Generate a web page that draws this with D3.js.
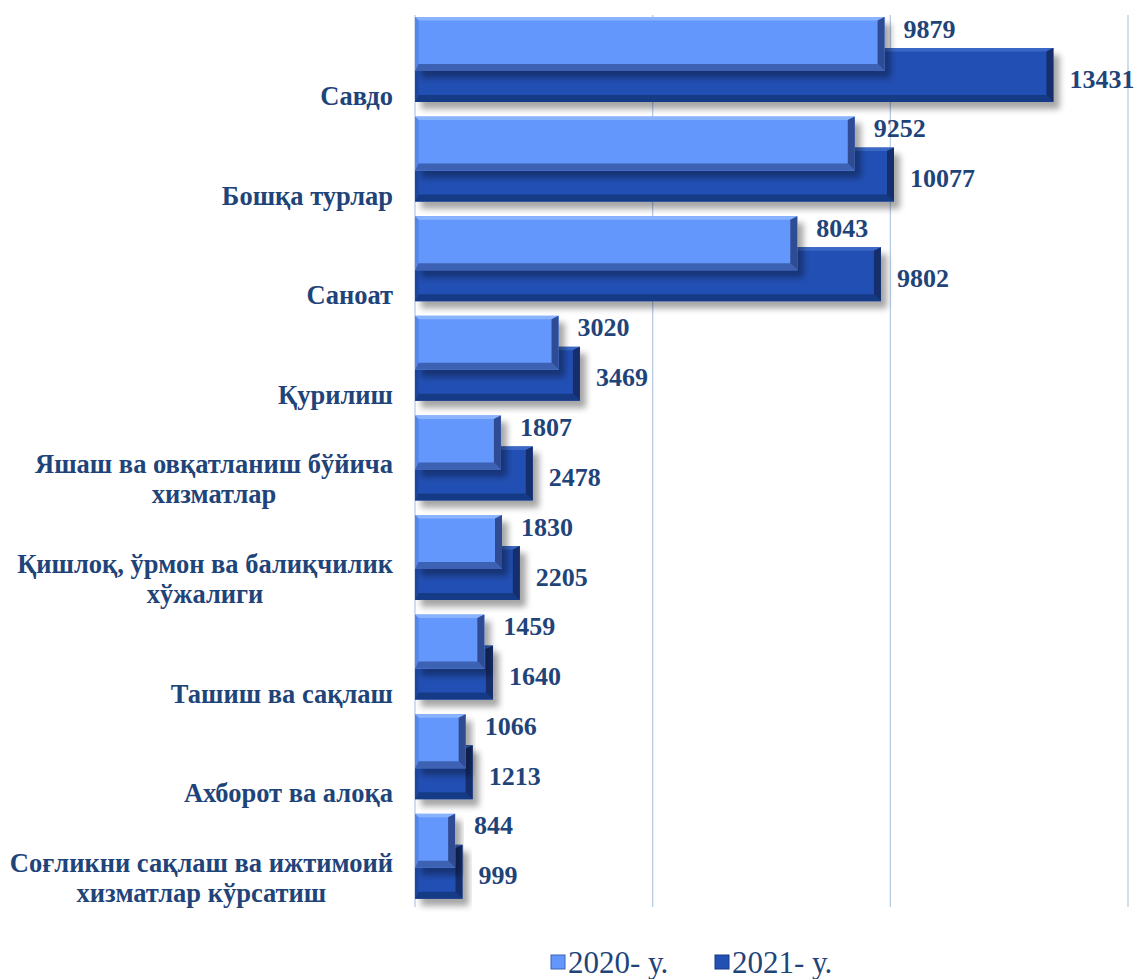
<!DOCTYPE html>
<html>
<meta charset="utf-8">
<style>
  body { margin: 0; background: #fff; }
  svg { display: block; }
</style>
<body>
<svg width="1135" height="979"></svg>
<script src="https://d3js.org/d3.v7.min.js"></script>
<script>
  // data
  let categories = [
    "Савдо",
    "Бошқа турлар",
    "Саноат",
    "Қурилиш",
    "Яшаш ва овқатланиш бўйича|хизматлар",
    "Қишлоқ, ўрмон ва балиқчилик|хўжалиги",
    "Ташиш ва сақлаш",
    "Ахборот ва алоқа",
    "Соғликни сақлаш ва ижтимоий|хизматлар кўрсатиш"
  ];
  let values2020 = [9879, 9252, 8043, 3020, 1807, 1830, 1459, 1066, 844];
  let values2021 = [13431, 10077, 9802, 3469, 2478, 2205, 1640, 1213, 999];
  let seriesNames = ["2020- у.", "2021- у."];
  let tickValues = [0, 5000, 10000, 15000];

  let fontFam = "'Liberation Serif', 'Times New Roman', serif";
  let textColor = "#1f4479";
  let palette = [
    {face: "#6497fb", top: "#8ab3ff", bottom: "#3d62b3", right: "#2e4c93", left: "#5585e6"},
    {face: "#2350b3", top: "#3b67c6", bottom: "#183a86", right: "#132e6c", left: "#1f469e"}
  ];

  let svg = d3.select("svg");
  let defs = svg.append("defs");
  defs.append("filter").attr("id", "shadow")
      .attr("x", "-10%").attr("y", "-30%").attr("width", "130%").attr("height", "180%")
    .append("feDropShadow")
      .attr("dx", 6).attr("dy", 7).attr("stdDeviation", 3)
      .attr("flood-color", "#000").attr("flood-opacity", 0.35);

  let xScale = d3.scaleLinear().domain([0, 15000]).range([415, 1128]);
  let yScale = d3.scaleBand().domain(d3.range(categories.length))
      .range([17, 17 + 99.6 * categories.length]).padding(0);

  let barH = 54, offset2021 = 31;

  // gridlines
  svg.append("g").selectAll("line")
    .data(tickValues)
    .join("line")
      .attr("x1", d => xScale(d)).attr("x2", d => xScale(d))
      .attr("y1", 15).attr("y2", 907)
      .attr("stroke", "#b9cde5").attr("stroke-width", 1.3);

  function drawBar(g, x0, y0, w, h, c) {
    let b = Math.min(7, w / 4), x1 = x0 + w, y1 = y0 + h;
    let bar = g.append("g").attr("filter", "url(#shadow)");
    bar.append("rect").attr("x", x0).attr("y", y0).attr("width", w).attr("height", h).attr("fill", c.face);
    let poly = (pts, fill) => bar.append("polygon").attr("points", pts.map(p => p.join(",")).join(" ")).attr("fill", fill);
    poly([[x0, y0], [x1, y0], [x1 - b, y0 + b * 0.5], [x0 + b * 0.5, y0 + b * 0.5]], c.top);
    poly([[x0, y0], [x0 + b * 0.5, y0 + b * 0.5], [x0 + b * 0.5, y1 - b], [x0, y1]], c.left);
    poly([[x0, y1], [x0 + b * 0.5, y1 - b], [x1 - b, y1 - b], [x1, y1]], c.bottom);
    poly([[x1, y0], [x1, y1], [x1 - b, y1 - b], [x1 - b, y0 + b * 0.5]], c.right);
  }

  let bars = svg.append("g");
  categories.forEach(function(cat, i) {
    let top = yScale(i);
    let g = bars.append("g");
    drawBar(g, xScale(0), top + offset2021, xScale(values2021[i]) - xScale(0), barH, palette[1]);
    drawBar(g, xScale(0), top, xScale(values2020[i]) - xScale(0), barH, palette[0]);
  });

  // value labels
  let labels = svg.append("g");
  labels.selectAll(".v20").data(values2020).join("text")
      .attr("x", d => xScale(d) + 19)
      .attr("y", (d, i) => yScale(i) + 12)
      .text(d => d);
  labels.selectAll(".v21").data(values2021).join("text")
      .attr("x", d => xScale(d) + 16)
      .attr("y", (d, i) => yScale(i) + 62)
      .text(d => d);
  labels.selectAll("text")
      .attr("dominant-baseline", "central")
      .style("font-family", fontFam).style("font-weight", "bold")
      .style("font-size", "26px").style("fill", textColor);

  // category labels, bottom line anchored, lines centred
  let catG = svg.append("g");
  categories.forEach(function(cat, i) {
    let lines = cat.split("|");
    let t = catG.append("text").attr("dominant-baseline", "central")
      .style("font-family", fontFam).style("font-weight", "bold")
      .style("font-size", "26.5px").style("fill", textColor);
    let spans = lines.map((l, k) => t.append("tspan").text(l)
        .attr("y", yScale(i) + 79 - (lines.length - 1 - k) * 30));
    let maxW = d3.max(spans, s => s.node().getComputedTextLength());
    spans.forEach(s => s.attr("x", 393 - maxW / 2).attr("text-anchor", "middle"));
  });

  // legend
  let legend = svg.append("g");
  let legendX = [551, 715];
  seriesNames.forEach(function(name, i) {
    let lg = legend.append("g").attr("transform", "translate(" + legendX[i] + ",955)");
    lg.append("rect").attr("width", 14).attr("height", 14).attr("fill", palette[i].face)
      .attr("stroke", palette[i].bottom).attr("stroke-width", 1);
    lg.append("text").attr("x", 17).attr("y", 18)
      .style("font-family", fontFam).style("font-size", "31px").style("fill", textColor).text(name);
  });
</script>
</body>
</html>
